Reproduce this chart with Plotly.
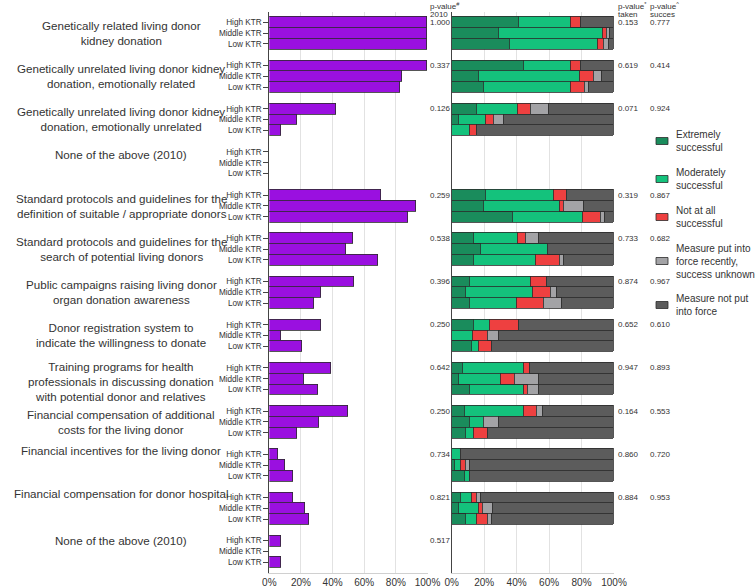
import plotly.graph_objects as go

W, H = 756, 588

categories = [
    "Genetically related living donor<br>kidney donation",
    "Genetically unrelated living donor kidney<br>donation, emotionally related",
    "Genetically unrelated living donor kidney<br>donation, emotionally unrelated",
    "None of the above (2010)",
    "Standard protocols and guidelines for the<br>definition of suitable / appropriate donors",
    "Standard protocols and guidelines for the<br>search of potential living donors",
    "Public campaigns raising living donor<br>organ donation awareness",
    "Donor registration system to<br>indicate the willingness to donate",
    "Training programs for health<br>professionals in discussing donation<br>with potential donor and relatives",
    "Financial compensation of additional<br>costs for the living donor",
    "Financial incentives for the living donor",
    "Financial compensation for donor hospital",
    "None of the above (2010)",
]
label_shift = [0, 0, 0, 8, 0, 0, 0, 0, -3, 0, 15, 15, 11]
ktr_levels = ["High KTR", "Middle KTR", "Low KTR"]

# Left panel: % of countries with measure (2010)
high_2010 = [100, 100, 42.2, None, 71.0, 53.1, 54.0, 32.9, 39.0, 50.2, 5.9, 15.0, 7.8]
mid_2010 = [100, 84.3, 17.9, None, 93.2, 48.9, 32.9, 7.8, 21.9, 31.8, 9.9, 22.8, None]
low_2010 = [100, 83.0, 7.8, None, 88.1, 69.1, 28.7, 21.1, 31.0, 17.9, 15.0, 25.1, 7.8]

# Right panel: success rating, (High, Middle, Low) per category
extremely = [(41.5, 29.0, 35.9), (44.1, 16.6, 19.5), (15.4, 4.1, 0), None,
             (20.9, 19.7, 37.6), (13.6, 17.9, 13.6), (10.9, 8.4, 10.9), (13.6, 0, 12.3),
             (6.8, 4.1, 11.1), (8.2, 11.1, 8.4), (0, 1.8, 8.2), (5.5, 4.1, 8.4), None]
moderately = [(31.6, 63.8, 54.0), (29.0, 62.0, 53.6), (25.1, 16.8, 10.9), None,
              (41.7, 46.8, 43.1), (26.9, 41.0, 38.1), (37.6, 41.5, 29.1), (9.8, 12.7, 4.3),
              (37.6, 25.9, 33.3), (36.2, 8.6, 5.2), (5.5, 3.7, 2.9), (6.8, 12.5, 7.0), None]
not_at_all = [(6.2, 2.5, 3.7), (6.2, 8.9, 8.6), (8.2, 4.8, 4.3), None,
              (8.0, 2.5, 11.1), (5.3, 0, 14.8), (9.8, 11.1, 16.7), (17.9, 9.3, 8.0),
              (3.9, 8.8, 2.6), (8.2, 0, 8.4), (0, 2.9, 0), (3.1, 2.7, 6.6), None]
recent = [(0, 2.2, 3.3), (0, 4.9, 2.9), (10.8, 6.1, 0), None,
          (0, 12.1, 2.2), (8.0, 0, 2.7), (0, 3.9, 10.9), (0, 6.7, 0),
          (0, 15.0, 6.8), (3.7, 9.0, 0), (0, 2.5, 0), (2.5, 6.0, 2.6), None]
not_put = [(20.7, 2.5, 3.1), (20.7, 7.6, 15.4), (40.5, 68.2, 84.8), None,
           (29.4, 18.9, 6.0), (46.2, 41.1, 30.8), (41.7, 35.1, 32.4), (58.7, 71.3, 75.4),
           (51.7, 46.2, 46.2), (43.7, 71.3, 78.0), (94.5, 89.1, 88.9), (82.1, 74.7, 75.4), None]

p_2010 = ["1.000", "0.337", "0.126", "", "0.259", "0.538", "0.396", "0.250", "0.642", "0.250", "0.734", "0.821", "0.517"]
p_taken = ["0.153", "0.619", "0.071", "", "0.319", "0.733", "0.874", "0.652", "0.947", "0.164", "0.860", "0.884", ""]
p_success = ["0.777", "0.414", "0.924", "", "0.867", "0.682", "0.967", "0.610", "0.893", "0.553", "0.720", "0.953", ""]
p_headers = [("p-value<sup>#</sup>", "2010"), ("p-value<sup>*</sup>", "taken"), ("p-value<sup>^</sup>", "succes")]

outcome_names = ["Extremely<br>successful", "Moderately<br>successful", "Not at all<br>successful",
                 "Measure put into<br>force recently,<br>success unknown", "Measure not put<br>into force"]
outcome_colors = ["#1a8c5c", "#14c27c", "#ee4040", "#a3a3a6", "#5c5c5c"]
outcome_data = [extremely, moderately, not_at_all, recent, not_put]
purple = "#9a10e0"
edge = "#2b2b2b"
font_fam = "Liberation Sans, Arial, sans-serif"

# positions: group g, level i -> g*4 + i
ypos = []
for g in range(len(categories)):
    for i in range(3):
        ypos.append(g * 4 + i)

def nz(v):
    return None if (v is None or v == 0) else v

left_vals = []
for g in range(len(categories)):
    left_vals += [nz(high_2010[g]), nz(mid_2010[g]), nz(low_2010[g])]

fig = go.Figure()
fig.add_trace(go.Bar(x=left_vals, y=ypos, orientation="h", width=1,
                     marker=dict(color=purple, line=dict(color=edge, width=0.8)),
                     xaxis="x", yaxis="y", showlegend=False, hoverinfo="x"))

for name, col, data in zip(outcome_names, outcome_colors, outcome_data):
    vals = []
    for g in range(len(categories)):
        if data[g] is None:
            vals += [None, None, None]
        else:
            vals += [nz(v) for v in data[g]]
    fig.add_trace(go.Bar(x=vals, y=ypos, orientation="h", width=1, name=name,
                         marker=dict(color=col, line=dict(color=edge, width=0.8)),
                         xaxis="x2", yaxis="y2", showlegend=False))

ydom = [1 - 573 / H, 1 - 11.5 / H]
x1dom = [269.3 / W, 427.5 / W]
x2dom = [451.7 / W, 614 / W]
yrange = [51, -1]
tickvals = list(range(0, 101, 20))
ticktext = [f"{v}%" for v in tickvals]

axis_x = dict(range=[0, 100], tickvals=tickvals, ticktext=ticktext, showgrid=True,
              gridcolor="#e2e2e2", gridwidth=1, showline=True, linecolor="#d0d0d0",
              ticks="", zeroline=False, automargin=False,
              tickfont=dict(size=10, color="#333", family=font_fam), fixedrange=True)

fig.update_layout(
    template="none",
    width=W, height=H, margin=dict(l=0, r=0, t=0, b=0, pad=0),
    paper_bgcolor="white", plot_bgcolor="white", barmode="stack", bargap=0,
    font=dict(family=font_fam, color="#333"), showlegend=False,
    xaxis=dict(domain=x1dom, anchor="y", **axis_x),
    xaxis2=dict(domain=x2dom, anchor="y2", **axis_x),
    yaxis=dict(domain=ydom, range=yrange, anchor="x", tickvals=ypos,
               ticktext=ktr_levels * len(categories), ticks="outside", ticklen=5,
               tickcolor="#444", showline=True, linecolor="#444", linewidth=1,
               showgrid=False, zeroline=False, automargin=False, fixedrange=True,
               tickfont=dict(size=8.2, color="#333", family=font_fam)),
    yaxis2=dict(domain=ydom, range=yrange, anchor="x2", showticklabels=False,
                ticks="", showline=True, linecolor="#444", linewidth=1, fixedrange=True,
                showgrid=False, zeroline=False, automargin=False),
)

ann = []
for g, lab in enumerate(categories):
    ann.append(dict(text=lab, x=121 / W, xref="paper", y=g * 4 + 1, yref="y",
                    xanchor="center", yanchor="middle", showarrow=False, yshift=label_shift[g],
                    font=dict(size=11.6, color="#333", family=font_fam), align="center"))
    for txt, xp in ((p_2010[g], 428 / W), (p_taken[g], 615.5 / W), (p_success[g], 648 / W)):
        if txt:
            ann.append(dict(text=txt, x=xp, xref="paper", y=g * 4, yref="y",
                            xanchor="left", yanchor="middle", showarrow=False,
                            font=dict(size=8, color="#333", family=font_fam)))

for (h1, h2), xp in zip(p_headers, (428, 615.5, 648)):
    for txt, yc in ((h1, 6), (h2, 15)):
        ann.append(dict(text=txt, x=xp / W, xref="paper", y=1 - yc / H, yref="paper",
                        xanchor="left", yanchor="middle", showarrow=False, align="left",
                        font=dict(size=8, color="#333", family=font_fam)))

legend_y = [141, 179, 217, 261, 305]
shapes = []
for name, col, ly in zip(outcome_names, outcome_colors, legend_y):
    shapes.append(dict(type="rect", xref="paper", yref="paper",
                       x0=656 / W, x1=668 / W, y0=1 - (ly + 3.5) / H, y1=1 - (ly - 3.5) / H,
                       fillcolor=col, line=dict(color=edge, width=0.8)))
    ann.append(dict(text=name, x=674 / W, xref="paper", y=1 - ly / H, yref="paper",
                    xanchor="left", yanchor="middle", showarrow=False, align="left",
                    font=dict(size=10, color="#333", family=font_fam)))

fig.update_layout(annotations=ann, shapes=shapes)
fig.write_html("out.html", config={"displayModeBar": False},
               post_script="document.body.style.margin='0';document.body.style.overflow='hidden';")
